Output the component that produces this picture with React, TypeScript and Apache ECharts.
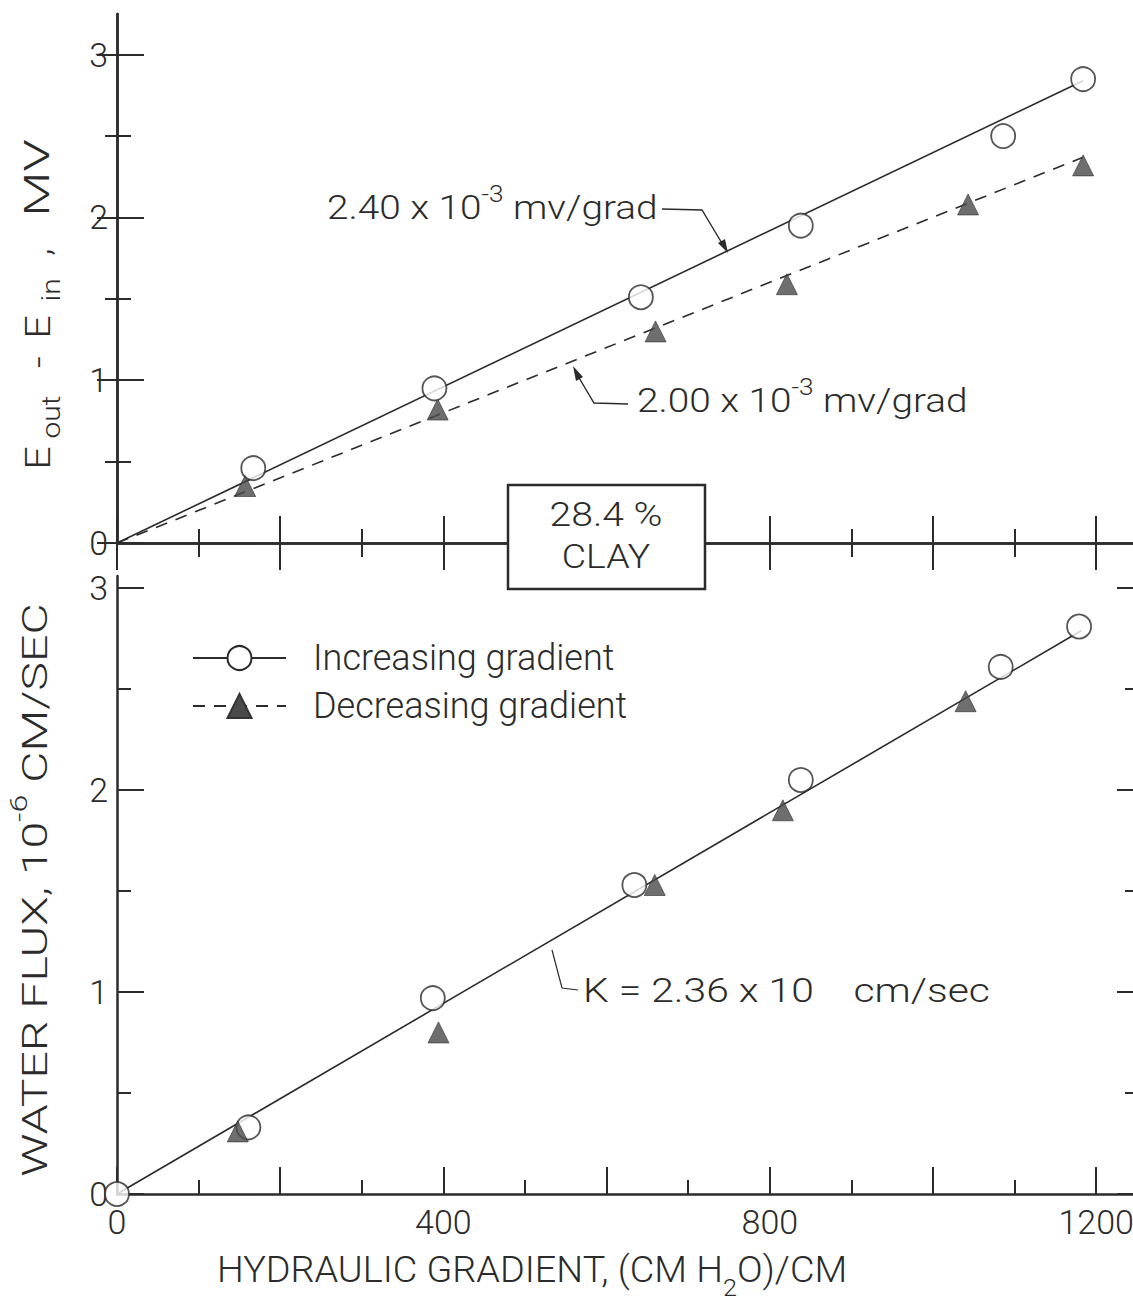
import React, { useEffect, useRef } from 'react';
import * as echarts from 'echarts';

// ---- data ----
const incTop = [[167, 0.46], [389, 0.95], [642, 1.51], [838, 1.95], [1086, 2.5], [1184, 2.85]];
const decTop = [[157, 0.35], [393, 0.82], [660, 1.3], [821, 1.59], [1043, 2.08], [1184, 2.32]];
const fitIncTop = [[0, 0], [1184, 2.84]];
const fitDecTop = [[0, 0], [1184, 2.37]];
const incBottom = [[0, 0], [161, 0.33], [387, 0.97], [634, 1.53], [838, 2.05], [1083, 2.61], [1179, 2.81]];
const decBottom = [[148, 0.31], [394, 0.8], [659, 1.53], [816, 1.9], [1040, 2.44]];
const fitBottom = [[0, 0], [1182, 2.79]];
const xTickLabels = [0, 400, 800, 1200];
const xMajorTicks = [0, 200, 400, 600, 800, 1000, 1200];
const xMinorTicks = [100, 300, 500, 700, 900, 1100];
const yTickLabels = [0, 1, 2, 3];
const yMajorTicks = [0, 1, 2, 3];
const yMinorTicks = [0.5, 1.5, 2.5];
const legendNames = ['Increasing gradient', 'Decreasing gradient'];

const FONT = 'Roboto, "DejaVu Sans", sans-serif';
const INK = '#2b2b2b';
const FW = 300;

function xAxisDef(gridIndex: number, position: string, ticks: number[], len: number, showLine: boolean, labels: boolean) {
  return {
    type: 'value', gridIndex, position, min: 0, max: 1250, interval: 50,
    axisLine: { show: showLine, lineStyle: { color: INK, width: 2.5 } },
    axisTick: { show: true, inside: true, length: len, customValues: ticks, lineStyle: { color: INK, width: 2 } },
    axisLabel: labels ? {
      show: true, margin: 11, color: INK, fontSize: 34, fontFamily: FONT, fontWeight: FW,
      customValues: xTickLabels,
      formatter: (v: number) => String(v),
    } : { show: false },
    splitLine: { show: false },
  };
}

function yAxisDef(gridIndex: number, position: string, max: number, ticks: number[], len: number, showLine: boolean, labels: boolean) {
  return {
    type: 'value', gridIndex, position, min: 0, max, interval: 0.25,
    axisLine: { show: showLine, lineStyle: { color: INK, width: 2.5 } },
    axisTick: { show: true, inside: true, length: len, customValues: ticks, lineStyle: { color: INK, width: 2 } },
    axisLabel: labels ? {
      show: true, margin: 9, color: INK, fontSize: 34, fontFamily: FONT, fontWeight: FW,
      customValues: yTickLabels,
      formatter: (v: number) => String(v),
    } : { show: false },
    splitLine: { show: false },
  };
}

const txt = (extra: any) => ({ fill: INK, fontFamily: FONT, fontWeight: FW, ...extra });

function rotText(text: string, x: number, y: number, fontSize: number, scaleX = 1.15) {
  return {
    type: 'text', x, y, rotation: Math.PI / 2, scaleX, z: 10,
    style: { ...txt({ fontSize }), text, align: 'center', verticalAlign: 'middle' },
  };
}

export default function App() {
  const ref = useRef<HTMLDivElement>(null);
  useEffect(() => {
    if (!ref.current) return;
    const chart = echarts.init(ref.current, undefined, { renderer: 'svg' });
    const lineSolid = { color: INK, width: 1.6, type: 'solid' };
    const lineDash = { color: INK, width: 1.6, type: [12, 9] };
    const circleStyle = { color: '#fff', borderColor: INK, borderWidth: 1.8 };
    const triStyle = { color: '#4a4a4a', borderColor: '#333', borderWidth: 0.8 };
    const base = { fill: INK, fontFamily: FONT, fontWeight: FW };
    const titleMain = { ...base, fontSize: 36, lineHeight: 56 };
    const titleSup = { ...base, fontSize: 24, lineHeight: 24, verticalAlign: 'top' };
    const xtMain = { ...base, fontSize: 36, lineHeight: 60 };
    const xtSub = { ...base, fontSize: 24, lineHeight: 24, verticalAlign: 'bottom' };
    const annMain = { ...base, fontSize: 34, lineHeight: 48 };
    const annSup = { ...base, fontSize: 23, lineHeight: 23, verticalAlign: 'top' };

    chart.setOption({
      animation: false,
      backgroundColor: '#fff',
      grid: [
        { left: 117, top: 14, width: 1020, height: 529 },
        { left: 117, top: 576, width: 1020, height: 618 },
      ],
      xAxis: [
        xAxisDef(0, 'bottom', xMinorTicks, 14, true, false),
        xAxisDef(0, 'bottom', xMajorTicks, 27, false, false),
        xAxisDef(0, 'top', xMinorTicks, 14, true, false),
        xAxisDef(0, 'top', xMajorTicks, 27, false, false),
        xAxisDef(1, 'bottom', xMinorTicks, 14, true, false),
        xAxisDef(1, 'bottom', xMajorTicks, 27, false, true),
      ],
      yAxis: [
        yAxisDef(0, 'left', 3.25, yMinorTicks, 14, true, false),
        yAxisDef(0, 'left', 3.25, yMajorTicks, 27, false, true),
        yAxisDef(0, 'right', 3.25, yMinorTicks, 12, true, false),
        yAxisDef(0, 'right', 3.25, yMajorTicks, 20, false, false),
        yAxisDef(1, 'left', 3.06, yMinorTicks, 14, true, false),
        yAxisDef(1, 'left', 3.06, yMajorTicks, 27, false, true),
        yAxisDef(1, 'right', 3.06, yMinorTicks, 12, true, false),
        yAxisDef(1, 'right', 3.06, yMajorTicks, 20, false, false),
      ],
      legend: {
        data: legendNames,
        orient: 'vertical',
        left: 192,
        top: 637,
        padding: 0,
        itemWidth: 93,
        itemHeight: 30,
        itemGap: 6,
        selectedMode: false,
        textStyle: { color: INK, fontSize: 36, lineHeight: 42, fontFamily: FONT, fontWeight: FW, padding: [0, 0, 0, 22] },
      },
      series: [
        {
          name: legendNames[0], type: 'line', xAxisIndex: 0, yAxisIndex: 0, data: fitIncTop,
          symbol: 'circle', symbolSize: 24, showSymbol: false, lineStyle: lineSolid, itemStyle: circleStyle, z: 2,
        },
        {
          name: legendNames[1], type: 'line', xAxisIndex: 0, yAxisIndex: 0, data: fitDecTop,
          symbol: 'triangle', symbolSize: 22, showSymbol: false, lineStyle: lineDash, itemStyle: triStyle, z: 2,
        },
        {
          name: legendNames[0], type: 'scatter', xAxisIndex: 0, yAxisIndex: 0, data: incTop,
          symbol: 'circle', symbolSize: 24, itemStyle: circleStyle, z: 4,
        },
        {
          name: legendNames[1], type: 'scatter', xAxisIndex: 0, yAxisIndex: 0, data: decTop,
          symbol: 'triangle', symbolSize: 21, itemStyle: triStyle, z: 5,
        },
        {
          name: 'K fit', type: 'line', xAxisIndex: 4, yAxisIndex: 4, data: fitBottom,
          showSymbol: false, lineStyle: lineSolid, z: 2,
        },
        {
          name: legendNames[0], type: 'scatter', xAxisIndex: 4, yAxisIndex: 4, data: incBottom,
          symbol: 'circle', symbolSize: 24, itemStyle: circleStyle, z: 4,
        },
        {
          name: legendNames[1], type: 'scatter', xAxisIndex: 4, yAxisIndex: 4, data: decBottom,
          symbol: 'triangle', symbolSize: 21, itemStyle: triStyle, z: 5,
        },
      ],
      graphic: [
        // top y-axis title: E_out - E_in, MV
        rotText('E', 37, 458, 36),
        rotText('out', 51, 417, 26),
        rotText('-', 37, 362, 36),
        rotText('E', 37, 327, 36),
        rotText('in', 51, 290, 26),
        rotText(',', 37, 252, 36),
        rotText('MV', 37, 178, 36, 1.45),
        // bottom y-axis title
        {
          type: 'text', x: 35, y: 890, rotation: Math.PI / 2, scaleX: 1.34, z: 10,
          style: {
            text: '{m|WATER FLUX, 10}{p|-6}{m| CM/SEC}',
            rich: { m: titleMain, p: titleSup }, align: 'center', verticalAlign: 'middle',
          },
        },
        // x-axis title
        {
          type: 'text', x: 532, y: 1270, scaleX: 1.05, z: 10,
          style: {
            text: '{m|HYDRAULIC GRADIENT, (CM H}{s|2}{m|O)/CM}',
            rich: { m: xtMain, s: xtSub }, align: 'center', verticalAlign: 'middle',
          },
        },
        // annotation: 2.40
        {
          type: 'text', x: 327, y: 207, scaleX: 1.14, z: 10,
          style: {
            text: '{m|2.40 x 10}{p|-3}{m| mv/grad}', rich: { m: annMain, p: annSup },
            align: 'left', verticalAlign: 'middle',
          },
        },
        {
          type: 'polyline', z: 10,
          shape: { points: [[662, 209], [702, 210], [726, 250]] },
          style: { stroke: INK, lineWidth: 1.4, fill: 'none' },
        },
        {
          type: 'polygon', z: 10,
          shape: { points: [[728, 253], [725, 239], [718, 243]] },
          style: { fill: INK },
        },
        // annotation: 2.00
        {
          type: 'text', x: 637, y: 400, scaleX: 1.14, z: 10,
          style: {
            text: '{m|2.00 x 10}{p|-3}{m| mv/grad}', rich: { m: annMain, p: annSup },
            align: 'left', verticalAlign: 'middle',
          },
        },
        {
          type: 'polyline', z: 10,
          shape: { points: [[628, 404], [594, 403], [575, 371]] },
          style: { stroke: INK, lineWidth: 1.4, fill: 'none' },
        },
        {
          type: 'polygon', z: 10,
          shape: { points: [[573, 366], [583, 377], [576, 381]] },
          style: { fill: INK },
        },
        // annotation: K
        {
          type: 'polyline', z: 10,
          shape: { points: [[552, 950], [562, 988], [578, 990]] },
          style: { stroke: INK, lineWidth: 1.2, fill: 'none' },
        },
        {
          type: 'text', x: 583, y: 990, scaleX: 1.2, z: 10,
          style: { ...txt({ fontSize: 34 }), text: 'K = 2.36 x 10    cm/sec', align: 'left', verticalAlign: 'middle' },
        },
        // box
        {
          type: 'rect', z: 20,
          shape: { x: 508, y: 485, width: 197, height: 104 },
          style: { fill: '#fff', stroke: INK, lineWidth: 2.5 },
        },
        {
          type: 'text', x: 606, y: 514, scaleX: 1.15, z: 21,
          style: { ...txt({ fontSize: 34 }), text: '28.4 %', align: 'center', verticalAlign: 'middle' },
        },
        {
          type: 'text', x: 606, y: 557, scaleX: 1.1, z: 21,
          style: { ...txt({ fontSize: 34 }), text: 'CLAY', align: 'center', verticalAlign: 'middle' },
        },
      ],
    });
    return () => chart.dispose();
  }, []);

  return (
    <div style={{ position: 'absolute', left: 0, top: 0, width: 1133, height: 1302, overflow: 'hidden', background: '#fff' }}>
      <div ref={ref} style={{ width: 1145, height: 1302 }} />
    </div>
  );
}
